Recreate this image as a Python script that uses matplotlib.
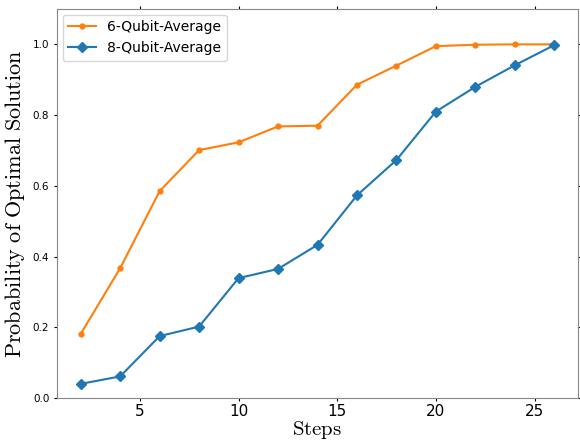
import matplotlib.pyplot as plt

# steps and averaged probabilities
steps = [2, 4, 6, 8, 10, 12, 14, 16, 18, 20, 22, 24, 26]
avg_6q = [0.181, 0.367, 0.585, 0.701, 0.723, 0.768, 0.770, 0.886, 0.940, 0.995, 0.999, 1.000, 1.000]
avg_8q = [0.040, 0.061, 0.175, 0.202, 0.339, 0.365, 0.433, 0.573, 0.673, 0.810, 0.880, 0.941, 0.998]

plt.rcParams['mathtext.fontset'] = 'cm'

fig = plt.figure(figsize=(5.8, 4.42), dpi=100)
ax = fig.add_axes([57 / 580, 1 - 398 / 442, (578 - 57) / 580, (398 - 9) / 442])

ax.plot(steps, avg_6q, color='#ff7f0e', marker='o', markersize=3.5, linewidth=1.5, label='6-Qubit-Average')
ax.plot(steps, avg_8q, color='#1f77b4', marker='D', markersize=5.5, linewidth=1.5, label='8-Qubit-Average')

ax.set_ylim(0, 1.1)
ax.set_xlabel(r'$\mathrm{Steps}$', fontsize=15, labelpad=0)
ax.set_ylabel(r'$\mathrm{Probability\ of\ Optimal\ Solution}$', fontsize=16)
ax.tick_params(axis='x', labelsize=11, length=2, pad=2)
ax.tick_params(axis='y', labelsize=7.5, length=2)
ax.tick_params(top=True, right=True)
for s in ax.spines.values():
    s.set_color('#888888')

ax.legend(loc='upper left', fontsize=10, borderaxespad=0.4)

fig.savefig('out.png', dpi=100)
